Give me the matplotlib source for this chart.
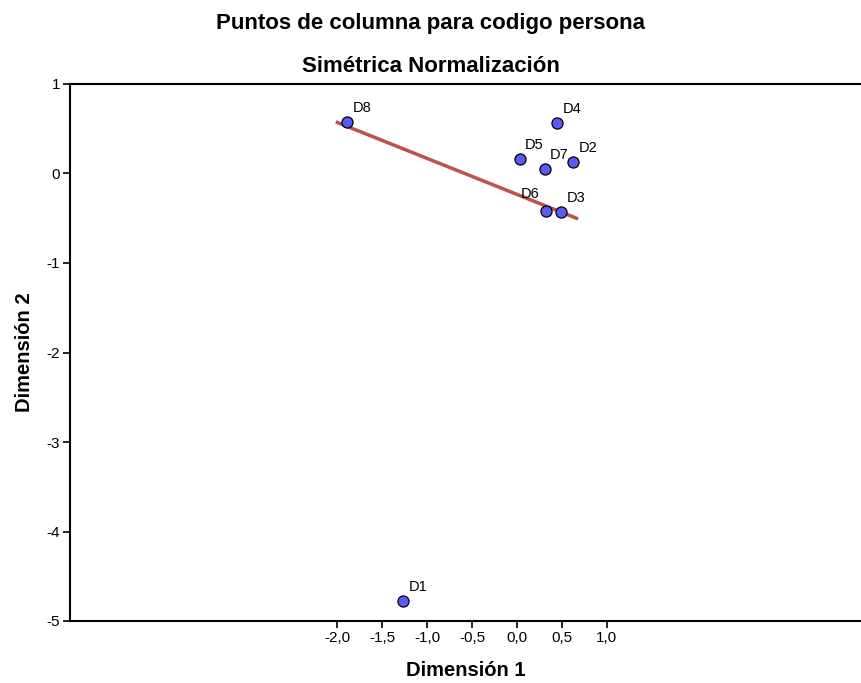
import matplotlib
matplotlib.use("Agg")
import matplotlib.pyplot as plt

plt.rcParams['font.family'] = ['Liberation Sans', 'DejaVu Sans']

# column points (Dimension 1, Dimension 2)
labels = ["D1", "D2", "D3", "D4", "D5", "D6", "D7", "D8"]
dim1 = [-1.27, 0.63, 0.49, 0.45, 0.03, 0.32, 0.31, -1.89]
dim2 = [-4.78, 0.13, -0.43, 0.56, 0.16, -0.42, 0.05, 0.58]

# fitted line endpoints
line_x = [-2.0, 0.665]
line_y = [0.57, -0.50]

xticks = [-2.0, -1.5, -1.0, -0.5, 0.0, 0.5, 1.0]
yticks = [1, 0, -1, -2, -3, -4, -5]

# label offsets in points (SPSS shifts some to avoid overlaps)
offsets = {"D6": (-18, 7)}

fig = plt.figure(figsize=(8.61, 6.83), dpi=100)
ax = fig.add_axes([70 / 861, 62 / 683, 791 / 861, 537 / 683])

ax.plot(line_x, line_y, color="#C0504D", lw=2.5, zorder=2)
ax.scatter(dim1, dim2, s=64, c="#5A5AF4", edgecolors="black", linewidths=0.9, zorder=3)
for lab, x, y in zip(labels, dim1, dim2):
    dx, dy = offsets.get(lab, (4, 5))
    ax.annotate(lab, (x, y), xytext=(dx, dy), textcoords="offset points",
                fontsize=10.5, ha="left", va="bottom")

ax.set_xlim(-4.98, 3.835)
ax.set_ylim(-5, 1)
ax.set_xticks(xticks)
ax.set_xticklabels([f"{t:.1f}".replace(".", ",") for t in xticks], fontsize=11)
ax.set_yticks(yticks)
ax.set_yticklabels([str(t) for t in yticks], fontsize=11)
ax.tick_params(direction="out", length=5, width=1.2, pad=2)

for s in ["left", "bottom", "top"]:
    ax.spines[s].set_linewidth(1.5)
ax.spines["right"].set_visible(False)

ax.set_xlabel("Dimensión 1", fontsize=14.5, fontweight="bold", labelpad=12)
ax.set_ylabel("Dimensión 2", fontsize=14.5, fontweight="bold", labelpad=9)

fig.text(0.5, 1 - 24 / 683, "Puntos de columna para codigo persona",
         ha="center", va="center", fontsize=16, fontweight="bold")
fig.text(0.5, 1 - 67 / 683, "Simétrica Normalización",
         ha="center", va="center", fontsize=16, fontweight="bold")

fig.savefig("out.png", dpi=100)
